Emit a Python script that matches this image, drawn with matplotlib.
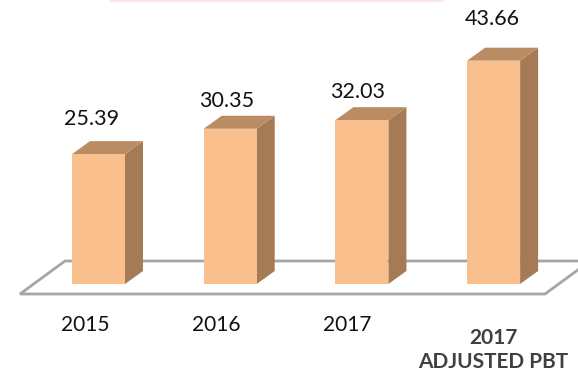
"""
Profit before tax by year, drawn as 3D-looking bars on a floor plate
"""

import matplotlib.pyplot as plt
from matplotlib.lines import Line2D
from matplotlib.patches import Polygon

# chart data
years = ["2015", "2016", "2017", "2017"]
sub_labels = ["", "", "", "ADJUSTED PBT"]
pbt = [25.39, 30.35, 32.03, 43.66]
value_text = ["25.39", "30.35", "32.03", "43.66"]

# styling
front_col = "#F9BF8C"
side_col = "#A57B56"
top_col = "#BA8C63"
floor_edge = "#A6A6A6"
px_per_cat = 131.7      # horizontal spacing between bars (px)
px_per_unit = 5.115     # vertical scale (px per value unit)
bar_w = 0.4025          # front face width in category units
depth_px = (18, 13)     # bar depth offset (px)
floor_depth_px = (45, 33)
label_off = [(-6.5, 35), (-3.6, 27.6), (-4, 28.3), (-1.5, 41.7)]   # px
cat_off = [-13.5, -14, -15, 0]

W, H = 578, 371
fig = plt.figure(figsize=(W / 100, H / 100), dpi=100)
ax = fig.add_axes([0, 0, 1, 1])
ax.set_axis_off()

# axis limits so that 1 category = px_per_cat px and the bar base sits at y=284px
x0_px, base_px = 98.5, H - 284
ax.set_xlim(-x0_px / px_per_cat, (W - x0_px) / px_per_cat)
ax.set_ylim(-base_px / px_per_unit, (H - base_px) / px_per_unit)

ddx = depth_px[0] / px_per_cat
ddy = depth_px[1] / px_per_unit

# floor plate
fl_left = (20 - x0_px) / px_per_cat
fl_right = (545 - x0_px) / px_per_cat
fl_front = (H - 294 - base_px) / px_per_unit
fdx = floor_depth_px[0] / px_per_cat
fdy = floor_depth_px[1] / px_per_unit
floor = Polygon([(fl_left, fl_front), (fl_right, fl_front),
                 (fl_right + fdx, fl_front + fdy), (fl_left + fdx, fl_front + fdy)],
                closed=True, fc="white", ec=floor_edge, lw=2, zorder=1)
ax.add_patch(floor)

xs = list(range(len(pbt)))
bars = ax.bar(xs, pbt, width=bar_w, color=front_col, lw=0, zorder=3)

for b, v in zip(bars, pbt):
    l, r = b.get_x(), b.get_x() + b.get_width()
    side = Polygon([(r, 0), (r + ddx, ddy), (r + ddx, v + ddy), (r, v)],
                   closed=True, fc=side_col, ec="none", zorder=2)
    top = Polygon([(l, v), (r, v), (r + ddx, v + ddy), (l + ddx, v + ddy)],
                  closed=True, fc=top_col, ec="none", zorder=2)
    ax.add_patch(side)
    ax.add_patch(top)

# value labels
for x, v, t, (ox, oy) in zip(xs, pbt, value_text, label_off):
    ax.annotate(t, xy=(x, v), xytext=(ox, oy), textcoords="offset pixels",
                ha="center", va="center", fontsize=15.5, family="Lato",
                color="#111111")

# category labels
for i, (x, y, s) in enumerate(zip(xs, years, sub_labels)):
    if s:
        ax.annotate(y, xy=(x, 0), xytext=(cat_off[i], -54), textcoords="offset pixels",
                    ha="center", va="center", fontsize=15, family="Lato",
                    fontweight="bold", color="#404040")
        ax.annotate(s, xy=(x, 0), xytext=(cat_off[i], -77.7), textcoords="offset pixels",
                    ha="center", va="center", fontsize=15, family="Lato",
                    fontweight="bold", color="#404040")
    else:
        ax.annotate(y, xy=(x, 0), xytext=(cat_off[i], -41), textcoords="offset pixels",
                    ha="center", va="center", fontsize=15, family="Lato",
                    color="#111111")

# faint edge of the title box above the chart
fig.add_artist(Line2D([110 / W, 443 / W], [1 - 0.6 / H, 1 - 0.6 / H],
                      color="#FBE3E8", lw=1.2))

fig.savefig("out.png", dpi=100)
